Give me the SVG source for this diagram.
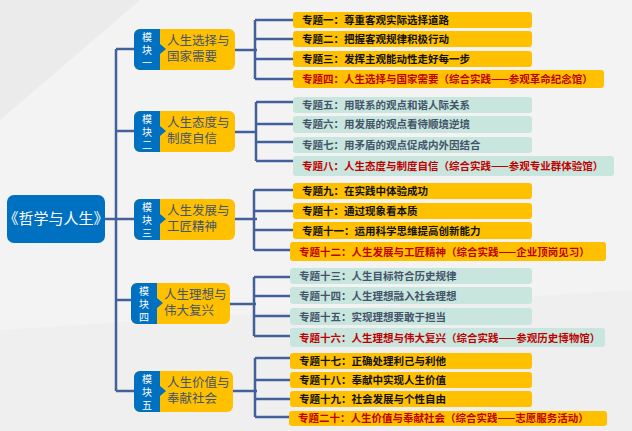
<svg xmlns="http://www.w3.org/2000/svg" width="632" height="431" viewBox="0 0 632 431">
<style>
.ln{stroke:#44609A;stroke-width:2.5;fill:none}
.y{fill:#FFC000}.g{fill:#C8E6DD}
.t{font-family:"Noto Sans CJK SC",sans-serif;font-size:10.5px;font-weight:bold;fill:#111}
.tg{fill:#44546A}.r{fill:#C00000}
.mt{font-family:"Noto Sans CJK SC",sans-serif;font-size:12.5px;fill:#44546A}
.tab{font-family:"Noto Sans CJK SC",sans-serif;font-size:10px;fill:#fff;text-anchor:middle}
</style>
<rect width="632" height="431" fill="#f3f3f4"/>
<polygon points="0,0 140,0 0,120" fill="#ebebec"/>
<polygon points="0,330 632,290 632,431 0,431" fill="#efeff0"/>
<g id="connectors">
<path class="ln" d="M105,219 H116 M116,49 V391 M116,49 H134 M116,131 H134 M116,219 H134 M116,300 H134 M116,391 H134"/>
<path class="ln" d="M235,50 H257 M255,20 V79 M255,20 H293 M255,39 H293 M255,59 H293 M255,79 H293"/>
<path class="ln" d="M235,132 H257 M256,102 V161 M256,102 H293 M256,124 H293 M256,142 H293 M256,161 H293"/>
<path class="ln" d="M235,219 H257 M254,190 V250 M254,190 H293 M254,211 H293 M254,230 H293 M254,250 H293"/>
<path class="ln" d="M230,304 H256 M254,277 V336 M254,277 H293 M254,296 H293 M254,316 H293 M254,336 H293"/>
<path class="ln" d="M233,391 H257 M255,358 V417 M255,358 H293 M255,380 H293 M255,399 H293 M255,417 H293"/>
</g>
<g id="root"><rect x="7" y="195" width="98" height="48" rx="7" fill="#0070C0"/>
<text x="56" y="224" font-family="Noto Sans CJK SC,sans-serif" font-size="15" fill="#fff" text-anchor="middle">《哲学与人生》</text></g>
<g id="m1"><rect x="134" y="29" width="101" height="41" rx="6" class="y"/><path d="M140,29 H160 V44 L166,49 L160,54 V70 H140 A6,6 0 0 1 134,64 V35 A6,6 0 0 1 140,29Z" fill="#0070C0"/>
<text class="tab" x="147" y="41">模</text><text class="tab" x="147" y="54">块</text><text class="tab" x="147" y="67">一</text>
<text class="mt" x="167" y="45">人生选择与</text><text class="mt" x="167" y="61">国家需要</text></g>
<g id="m2"><rect x="134" y="111" width="101" height="41" rx="6" class="y"/><path d="M140,111 H160 V126 L166,131 L160,136 V152 H140 A6,6 0 0 1 134,146 V117 A6,6 0 0 1 140,111Z" fill="#0070C0"/>
<text class="tab" x="147" y="123">模</text><text class="tab" x="147" y="136">块</text><text class="tab" x="147" y="149">二</text>
<text class="mt" x="167" y="127">人生态度与</text><text class="mt" x="167" y="143">制度自信</text></g>
<g id="m3"><rect x="134" y="199" width="101" height="41" rx="6" class="y"/><path d="M140,199 H160 V214 L166,219 L160,224 V240 H140 A6,6 0 0 1 134,234 V205 A6,6 0 0 1 140,199Z" fill="#0070C0"/>
<text class="tab" x="147" y="211">模</text><text class="tab" x="147" y="224">块</text><text class="tab" x="147" y="237">三</text>
<text class="mt" x="167" y="215">人生发展与</text><text class="mt" x="167" y="231">工匠精神</text></g>
<g id="m4"><rect x="131" y="283" width="99" height="41" rx="6" class="y"/><path d="M137,283 H157 V298 L163,303 L157,308 V324 H137 A6,6 0 0 1 131,318 V289 A6,6 0 0 1 137,283Z" fill="#0070C0"/>
<text class="tab" x="144" y="295">模</text><text class="tab" x="144" y="308">块</text><text class="tab" x="144" y="321">四</text>
<text class="mt" x="164" y="299">人生理想与</text><text class="mt" x="164" y="315">伟大复兴</text></g>
<g id="m5"><rect x="134" y="371" width="99" height="41" rx="6" class="y"/><path d="M140,371 H160 V386 L166,391 L160,396 V412 H140 A6,6 0 0 1 134,406 V377 A6,6 0 0 1 140,371Z" fill="#0070C0"/>
<text class="tab" x="147" y="383">模</text><text class="tab" x="147" y="396">块</text><text class="tab" x="147" y="409">五</text>
<text class="mt" x="167" y="387">人生价值与</text><text class="mt" x="167" y="403">奉献社会</text></g>
<g id="topics">
<g id="t1"><rect class="y" x="293" y="12" width="239" height="16" rx="3"/><text class="t" x="302" y="24">专题一：尊重客观实际选择道路</text></g>
<g id="t2"><rect class="y" x="293" y="31" width="239" height="16" rx="3"/><text class="t" x="302" y="43">专题二：把握客观规律积极行动</text></g>
<g id="t3"><rect class="y" x="293" y="51" width="239" height="16" rx="3"/><text class="t" x="302" y="63">专题三：发挥主观能动性走好每一步</text></g>
<g id="t4"><rect class="y" x="293" y="70" width="311" height="18" rx="3"/><text class="t r" x="302" y="83">专题四：人生选择与国家需要（综合实践——参观革命纪念馆）</text></g>
<g id="t5"><rect class="g" x="293" y="97" width="239" height="16" rx="3"/><text class="t tg" x="302" y="109">专题五：用联系的观点和谐人际关系</text></g>
<g id="t6"><rect class="g" x="293" y="116" width="239" height="17" rx="3"/><text class="t tg" x="302" y="128">专题六：用发展的观点看待顺境逆境</text></g>
<g id="t7"><rect class="g" x="293" y="137" width="239" height="16" rx="3"/><text class="t tg" x="302" y="149">专题七：用矛盾的观点促成内外因结合</text></g>
<g id="t8"><rect class="g" x="293" y="156" width="321" height="20" rx="3"/><text class="t r" x="302" y="170">专题八：人生态度与制度自信（综合实践——参观专业群体验馆）</text></g>
<g id="t9"><rect class="y" x="293" y="183" width="239" height="16" rx="3"/><text class="t" x="302" y="195">专题九：在实践中体验成功</text></g>
<g id="t10"><rect class="y" x="293" y="203" width="239" height="16" rx="3"/><text class="t" x="302" y="215">专题十：通过现象看本质</text></g>
<g id="t11"><rect class="y" x="293" y="222" width="239" height="17" rx="3"/><text class="t" x="302" y="235">专题十一：运用科学思维提高创新能力</text></g>
<g id="t12"><rect class="y" x="290" y="242" width="316" height="19" rx="3"/><text class="t r" x="299" y="256">专题十二：人生发展与工匠精神（综合实践——企业顶岗见习）</text></g>
<g id="t13"><rect class="g" x="290" y="268" width="242" height="16" rx="3"/><text class="t tg" x="299" y="280">专题十三：人生目标符合历史规律</text></g>
<g id="t14"><rect class="g" x="290" y="287" width="242" height="17" rx="3"/><text class="t tg" x="299" y="300">专题十四：人生理想融入社会理想</text></g>
<g id="t15"><rect class="g" x="290" y="308" width="242" height="17" rx="3"/><text class="t tg" x="299" y="321">专题十五：实现理想要敢于担当</text></g>
<g id="t16"><rect class="g" x="290" y="328" width="315" height="19" rx="3"/><text class="t r" x="299" y="342">专题十六：人生理想与伟大复兴（综合实践——参观历史博物馆）</text></g>
<g id="t17"><rect class="y" x="290" y="353" width="242" height="16" rx="3"/><text class="t" x="299" y="365">专题十七：正确处理利己与利他</text></g>
<g id="t18"><rect class="y" x="290" y="372" width="242" height="16" rx="3"/><text class="t" x="299" y="384">专题十八：奉献中实现人生价值</text></g>
<g id="t19"><rect class="y" x="290" y="391" width="242" height="16" rx="3"/><text class="t" x="299" y="403">专题十九：社会发展与个性自由</text></g>
<g id="t20"><rect class="y" x="289" y="411" width="318" height="15" rx="3"/><text class="t r" x="298" y="422">专题二十：人生价值与奉献社会（综合实践——志愿服务活动）</text></g>
</g>
</svg>
